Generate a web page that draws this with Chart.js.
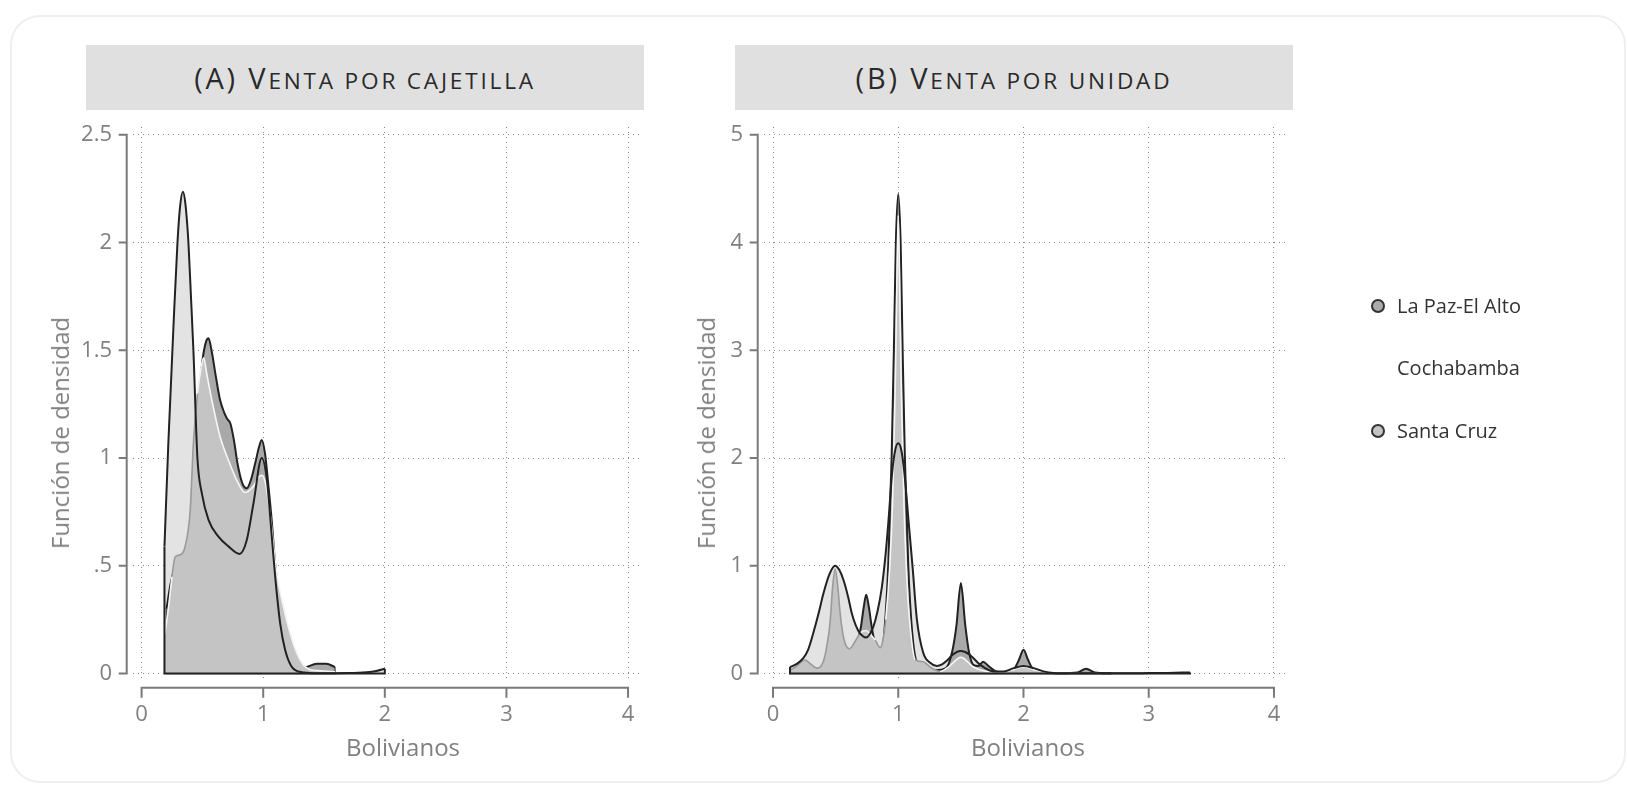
<!DOCTYPE html>
<html>
<head>
<meta charset="utf-8">
<script src="https://cdn.jsdelivr.net/npm/chart.js@4.4.1/dist/chart.umd.min.js"></script>
<style>
html,body{margin:0;padding:0;background:#fff;width:1627px;height:787px;overflow:hidden;font-family:'Open Sans',sans-serif;}
.card{position:absolute;left:10px;top:15px;width:1616px;height:768px;border:2px solid #efefef;border-radius:30px;box-sizing:border-box;}
.ptitle{position:absolute;top:45px;height:65px;width:558px;background:#e0e0e0;color:#2a2a2a;font-size:29px;line-height:65px;text-align:center;white-space:nowrap;letter-spacing:2.8px;}
.sc{font-size:0.78em;text-transform:uppercase;}
.atitle{position:absolute;color:#808080;font-size:24px;white-space:nowrap;line-height:30px;}
canvas{position:absolute;top:0;}
.leg{position:absolute;left:1397px;color:#333;font-size:20px;line-height:28px;white-space:nowrap;}
.dot{position:absolute;left:1371px;width:14px;height:14px;border:2px solid #333;border-radius:50%;box-sizing:border-box;}
</style>
</head>
<body>
<div class="card"></div>
<div class="ptitle" style="left:86px">(A) V<span class="sc">enta por cajetilla</span></div>
<div class="ptitle" style="left:735px">(B) V<span class="sc">enta por unidad</span></div>
<canvas id="cA" width="660" height="787" style="left:0;width:660px;height:787px"></canvas>
<canvas id="cB" width="967" height="787" style="left:660px;width:967px;height:787px"></canvas>
<div class="atitle" style="left:60px;top:433px;transform:translate(-50%,-50%) rotate(-90deg)">Función de densidad</div>
<div class="atitle" style="left:706px;top:433px;transform:translate(-50%,-50%) rotate(-90deg)">Función de densidad</div>
<div class="atitle" style="left:403px;top:747px;transform:translate(-50%,-50%)">Bolivianos</div>
<div class="atitle" style="left:1028px;top:747px;transform:translate(-50%,-50%)">Bolivianos</div>
<div class="dot" style="top:299px;background:#ababab"></div>
<div class="leg" style="top:292px">La Paz-El Alto</div>
<div class="leg" style="top:354px">Cochabamba</div>
<div class="dot" style="top:424px;background:#c4c4c4"></div>
<div class="leg" style="top:417px">Santa Cruz</div>
<script>
// ---------- ticks ----------
const xTicks = [0, 1, 2, 3, 4];
const xTickLabels = ['0', '1', '2', '3', '4'];
const yTicksA = [0, 0.5, 1, 1.5, 2, 2.5];
const yTickLabelsA = ['0', '.5', '1', '1.5', '2', '2.5'];
const yTicksB = [0, 1, 2, 3, 4, 5];
const yTickLabelsB = ['0', '1', '2', '3', '4', '5'];

// ---------- (A) Venta por cajetilla ----------
const cochaAX = [0.188,0.22,0.262,0.295,0.317,0.34,0.36,0.385,0.405,0.426,0.459,0.495,0.55,0.632,0.714,0.805,0.865,0.92,0.988,1.03,1.07,1.1,1.14,1.18,1.23,1.3,1.45,1.7,1.85,1.93,2.0];
const cochaAY = [0.59,1.07,1.61,2.0,2.17,2.236,2.18,2.0,1.76,1.5,1.0,0.837,0.713,0.635,0.59,0.555,0.62,0.79,1.0,0.9,0.64,0.44,0.23,0.11,0.035,0.008,0.001,0.002,0.006,0.012,0.022];

const laPazAX = [0.205,0.24,0.28,0.33,0.38,0.42,0.46,0.5,0.53,0.55,0.575,0.61,0.645,0.68,0.706,0.73,0.76,0.79,0.83,0.865,0.9,0.94,0.965,0.988,1.015,1.043,1.07,1.098,1.139,1.18,1.235,1.3,1.36,1.44,1.52,1.59];
const laPazAY = [0.3,0.42,0.5,0.53,0.6,0.85,1.2,1.45,1.54,1.556,1.5,1.38,1.27,1.21,1.18,1.16,1.08,0.97,0.88,0.86,0.9,0.99,1.05,1.084,1.02,0.87,0.71,0.51,0.31,0.17,0.064,0.02,0.03,0.045,0.045,0.03];

const santaAX = [0.19,0.22,0.25,0.275,0.31,0.358,0.4,0.426,0.46,0.49,0.51,0.536,0.577,0.645,0.714,0.78,0.851,0.92,0.96,0.99,1.02,1.057,1.11,1.166,1.22,1.276,1.33,1.41,1.5,1.59];
const santaAY = [0.18,0.3,0.45,0.54,0.55,0.59,0.76,1.07,1.3,1.42,1.465,1.39,1.27,1.1,0.99,0.9,0.84,0.87,0.91,0.92,0.88,0.74,0.47,0.31,0.19,0.095,0.04,0.015,0.012,0.008];

// ---------- (B) Venta por unidad ----------
const cochaBX = [0.136,0.19,0.24,0.28,0.32,0.36,0.402,0.45,0.496,0.53,0.562,0.6,0.629,0.66,0.696,0.744,0.77,0.8,0.835,0.869,0.9,0.922,0.95,0.975,1.0,1.025,1.05,1.082,1.115,1.149,1.2,1.255,1.309,1.35,1.389,1.44,1.495,1.535,1.575,1.655,1.762,1.842,1.922,2.0,2.08,2.16,2.24,2.4,2.6,2.8,3.0,3.15,3.33];
const cochaBY = [0.06,0.09,0.14,0.22,0.37,0.54,0.74,0.92,1.0,0.96,0.87,0.71,0.56,0.45,0.37,0.335,0.36,0.43,0.58,0.8,1.12,1.42,1.85,2.07,2.137,2.07,1.85,1.42,0.98,0.5,0.19,0.1,0.07,0.085,0.12,0.18,0.21,0.2,0.17,0.08,0.02,0.02,0.05,0.07,0.05,0.02,0.006,0.002,0.003,0.002,0.004,0.006,0.01];

const laPazBX = [0.136,0.2,0.3,0.35,0.4,0.45,0.5,0.53,0.56,0.6,0.66,0.7,0.725,0.744,0.765,0.79,0.83,0.87,0.89,0.92,0.947,0.965,0.981,1.0,1.019,1.035,1.053,1.08,1.11,1.15,1.2,1.3,1.38,1.43,1.465,1.5,1.535,1.565,1.6,1.64,1.677,1.72,1.78,1.88,1.93,1.965,2.0,2.035,2.07,2.15,2.3,2.43,2.5,2.57,2.7];
const laPazBY = [0.03,0.04,0.05,0.04,0.07,0.3,0.6,0.5,0.3,0.18,0.25,0.42,0.62,0.73,0.62,0.42,0.22,0.2,0.4,1.0,2.0,3.0,4.0,4.45,4.0,3.0,2.0,1.0,0.4,0.1,0.07,0.03,0.05,0.2,0.45,0.84,0.45,0.2,0.08,0.07,0.11,0.07,0.02,0.01,0.05,0.13,0.22,0.13,0.05,0.01,0.003,0.01,0.045,0.01,0.002];

const santaBX = [0.136,0.19,0.256,0.3,0.35,0.39,0.416,0.44,0.456,0.476,0.496,0.516,0.536,0.556,0.576,0.61,0.656,0.7,0.744,0.78,0.816,0.856,0.876,0.9,0.93,0.955,0.975,0.99,1.0,1.01,1.025,1.045,1.07,1.1,1.135,1.2,1.255,1.335,1.4,1.5,1.6,1.7,1.8,1.9,2.0,2.1,2.2,2.4,2.6];
const santaBY = [0.03,0.07,0.125,0.09,0.05,0.08,0.17,0.33,0.48,0.8,0.97,0.82,0.56,0.38,0.28,0.23,0.3,0.38,0.4,0.36,0.31,0.24,0.3,0.5,0.95,1.6,2.6,3.7,4.25,3.7,2.6,1.6,0.85,0.38,0.13,0.11,0.06,0.02,0.06,0.15,0.06,0.02,0.01,0.03,0.06,0.03,0.01,0.003,0.002];

// ---------- colours ----------
const colLaPaz = '#a9a9a9';
const colCocha = '#e3e3e3';
const colSanta = '#c4c4c4';
const colLine = '#222222';

function pts(xs, ys) { return xs.map((x, i) => ({ x: x, y: ys[i] })); }
function edgePts(xs, ys) {
  const n = xs.length - 1;
  return [{ x: xs[0], y: ys[0] }, { x: xs[0], y: 0 }, { x: xs[n], y: 0 }, { x: xs[n], y: ys[n] }];
}
function interp(xs, ys, x) {
  if (x < xs[0] || x > xs[xs.length - 1]) return 0;
  for (let i = 0; i < xs.length - 1; i++) {
    if (x >= xs[i] && x <= xs[i + 1]) {
      const t = (x - xs[i]) / (xs[i + 1] - xs[i]);
      return ys[i] + t * (ys[i + 1] - ys[i]);
    }
  }
  return 0;
}

// lower "order" is drawn on top
function buildDatasets(coX, coY, lpX, lpY, scX, scY) {
  const base = { pointRadius: 0, cubicInterpolationMode: 'monotone' };
  return [
    Object.assign({}, base, { label: 'Cochabamba', data: pts(coX, coY), borderColor: colLine, borderWidth: 2, fill: false, order: 1 }),
    { label: 'Cochabamba base', data: edgePts(coX, coY), pointRadius: 0, tension: 0, borderColor: colLine, borderWidth: 2, fill: false, order: 2 },
    Object.assign({}, base, {
      label: 'Santa Cruz', data: pts(scX, scY), borderWidth: 1.6, fill: false, order: 3, borderColor: '#9a9a9a',
      segment: {
        borderColor: (c) => {
          const i = c.p0DataIndex;
          const xm = (scX[i] + scX[i + 1]) / 2;
          const s = (scY[i] + scY[i + 1]) / 2;
          const lp = interp(lpX, lpY, xm);
          const co = interp(coX, coY, xm);
          if (lp > s + 0.004) return '#f6f6f6';
          if (co > s + 0.004) return '#9a9a9a';
          return '#f2f2f2';
        }
      }
    }),
    Object.assign({}, base, { label: 'Santa Cruz fill', data: pts(scX, scY), backgroundColor: colSanta, borderColor: 'rgba(0,0,0,0)', borderWidth: 0, fill: { value: 0 }, order: 4 }),
    Object.assign({}, base, { label: 'La Paz-El Alto', data: pts(lpX, lpY), borderColor: colLine, borderWidth: 2, fill: false, order: 5 }),
    { label: 'La Paz base', data: edgePts(lpX, lpY), pointRadius: 0, tension: 0, borderColor: '#555', borderWidth: 1.5, fill: false, order: 6 },
    Object.assign({}, base, { label: 'La Paz fill', data: pts(lpX, lpY), backgroundColor: colLaPaz, borderColor: 'rgba(0,0,0,0)', borderWidth: 0, fill: { value: 0 }, order: 7 }),
    Object.assign({}, base, { label: 'Cochabamba fill', data: pts(coX, coY), backgroundColor: colCocha, borderColor: 'rgba(0,0,0,0)', borderWidth: 0, fill: { value: 0 }, order: 8 })
  ];
}

const stataAxes = {
  id: 'stataAxes',
  afterDraw(chart, args, opts) {
    const { ctx, chartArea } = chart;
    const xs = chart.scales.x, ys = chart.scales.y;
    const yt = opts.yTicks;
    ctx.save();
    ctx.strokeStyle = '#7a7a7a';
    ctx.lineWidth = 2;
    ctx.lineCap = 'butt';
    const ax = chartArea.left - 6.3;
    const yTop = ys.getPixelForValue(yt[yt.length - 1]);
    const yBot = ys.getPixelForValue(0);
    ctx.beginPath();
    ctx.moveTo(ax, yTop - 1); ctx.lineTo(ax, yBot + 1);
    yt.forEach(v => { const p = ys.getPixelForValue(v); ctx.moveTo(ax - 8, p); ctx.lineTo(ax, p); });
    const ay = chartArea.bottom + 7.7;
    const x0 = xs.getPixelForValue(xTicks[0]);
    const x1 = xs.getPixelForValue(xTicks[xTicks.length - 1]);
    ctx.moveTo(x0 - 1, ay); ctx.lineTo(x1 + 1, ay);
    xTicks.forEach(v => { const p = xs.getPixelForValue(v); ctx.moveTo(p, ay); ctx.lineTo(p, ay + 10); });
    ctx.stroke();
    ctx.restore();
  }
};

function makeChart(id, datasets, xMin, xMax, yMin, yMax, yTicks, yLabels, pad) {
  const tickFont = { family: 'Open Sans', size: 22 };
  return new Chart(document.getElementById(id), {
    type: 'line',
    data: { datasets: datasets },
    plugins: [stataAxes],
    options: {
      responsive: false,
      animation: false,
      events: [],
      layout: { padding: pad },
      plugins: { legend: { display: false }, tooltip: { enabled: false }, stataAxes: { yTicks: yTicks } },
      scales: {
        x: {
          type: 'linear', min: xMin, max: xMax,
          afterBuildTicks: (s) => { s.ticks = xTicks.map(v => ({ value: v })); },
          afterFit: (s) => { s.height = 50; },
          ticks: { font: tickFont, color: '#808080', padding: 22, maxRotation: 0, autoSkip: false,
                   callback: (v) => xTickLabels[xTicks.indexOf(v)] },
          grid: { color: '#8a8a8a', lineWidth: 1, drawTicks: false },
          border: { display: false, dash: [1, 4] }
        },
        y: {
          type: 'linear', min: yMin, max: yMax,
          afterBuildTicks: (s) => { s.ticks = yTicks.map(v => ({ value: v })); },
          afterFit: (s) => { s.width = 80; },
          ticks: { font: tickFont, color: '#808080', padding: 21, autoSkip: false,
                   callback: (v) => yLabels[yTicks.indexOf(v)] },
          grid: { color: '#8a8a8a', lineWidth: 1, drawTicks: false },
          border: { display: false, dash: [1, 4] }
        }
      }
    }
  });
}

makeChart('cA', buildDatasets(cochaAX, cochaAY, laPazAX, laPazAY, santaAX, santaAY),
  -0.0707, 4.123, -0.030, 2.536, yTicksA, yTickLabelsA,
  { left: 53, right: 17, top: 127, bottom: 57 });
makeChart('cB', buildDatasets(cochaBX, cochaBY, laPazBX, laPazBY, santaBX, santaBY),
  -0.0719, 4.088, -0.060, 5.072, yTicksB, yTickLabelsB,
  { left: 24, right: 342, top: 127, bottom: 57 });
</script>
</body>
</html>
